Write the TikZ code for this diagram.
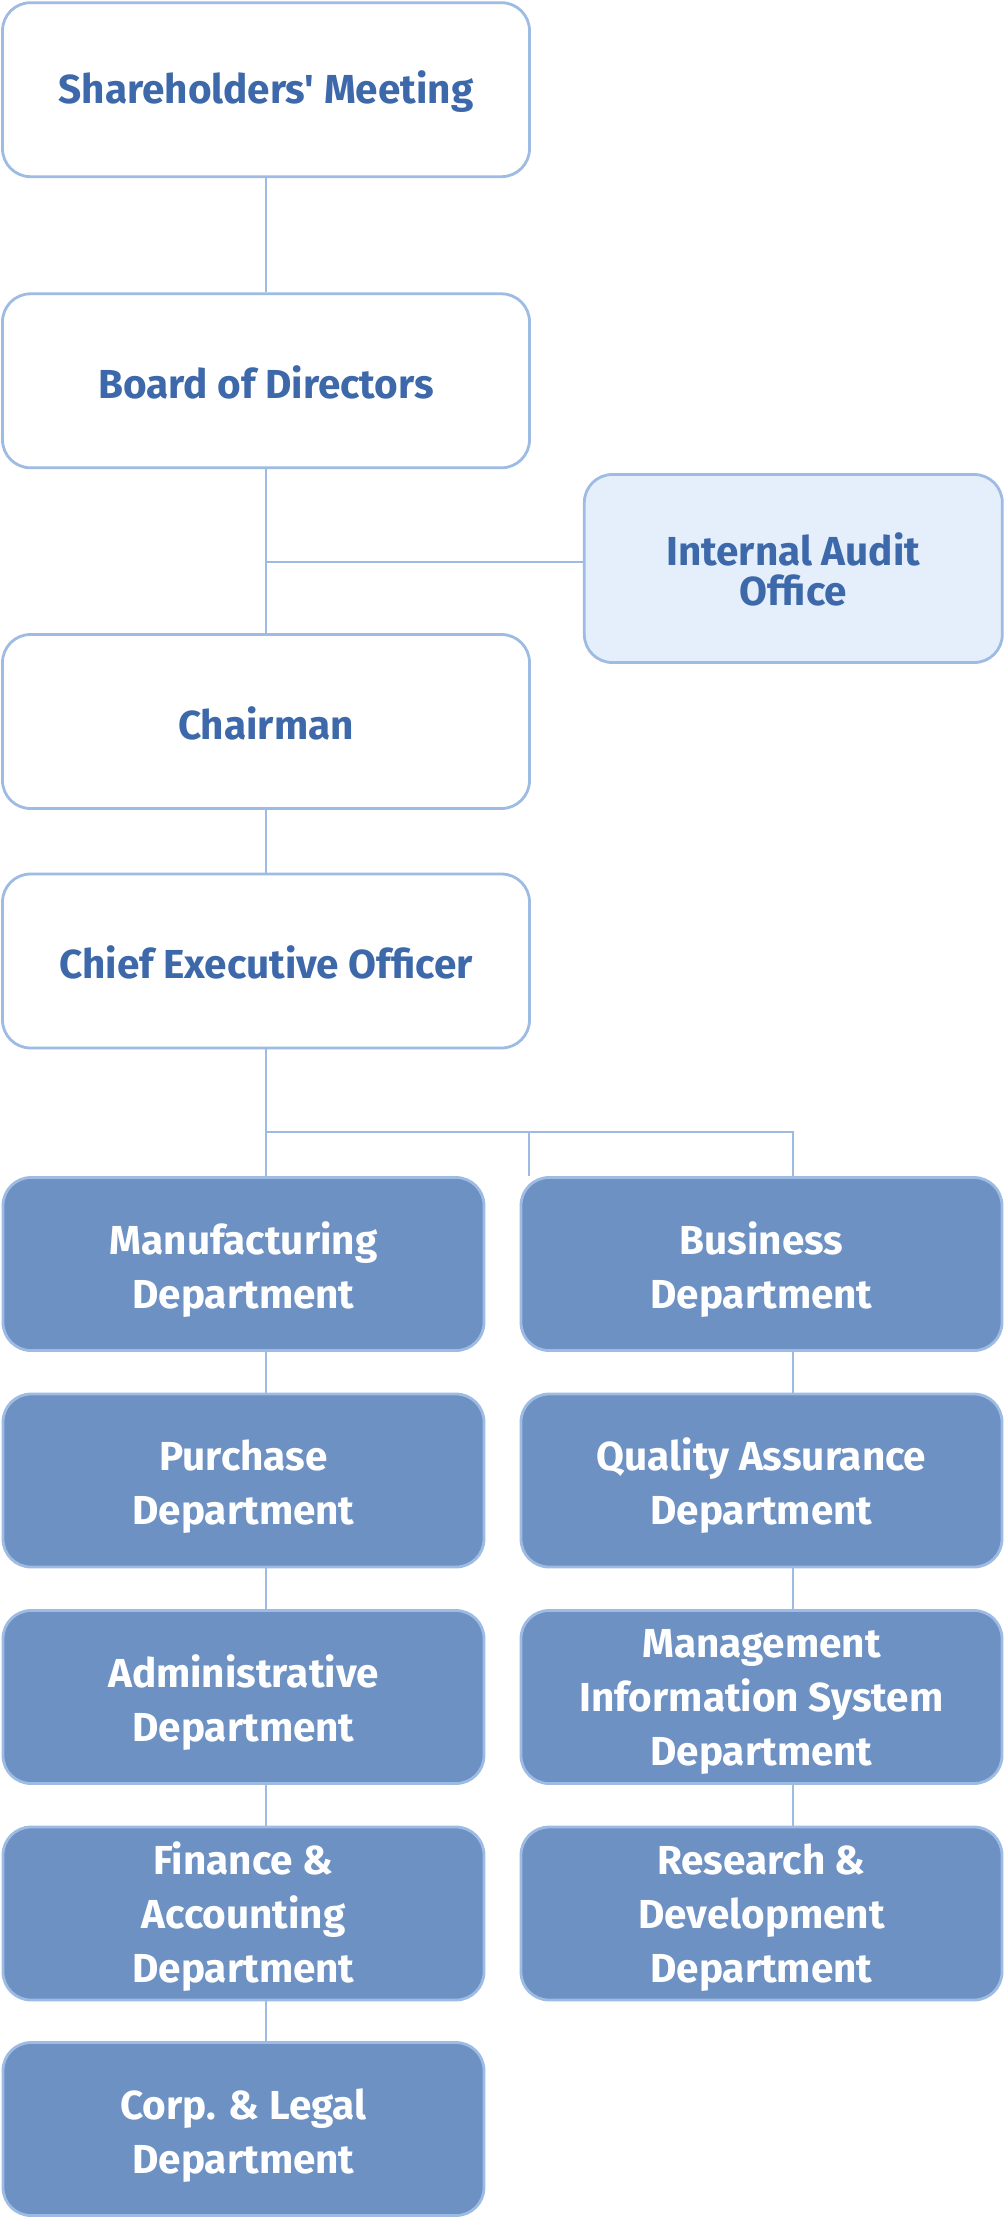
\documentclass[tikz,border=0pt]{standalone}
\usepackage{fontspec}
\setmainfont{Fira Sans}[Ligatures=TeXOff]
\definecolor{lineblue}{HTML}{9DBBE3}
\definecolor{textblue}{HTML}{3D68AA}
\definecolor{deptfill}{HTML}{6C91C2}
\definecolor{auditfill}{HTML}{E5EFFB}
\newcommand\myDeptStrut{\rule{0pt}{43pt}}
\newcommand\myTriStrut{\rule{0pt}{38pt}}
\newcommand\myAuditStrut{\rule{0pt}{35pt}}
\begin{document}
\begin{tikzpicture}[x=1pt,y=-1pt,
  base/.style={draw=lineblue, line width=2.8pt, rounded corners=28pt, align=center, inner sep=0pt,
    font=\fontsize{40.5}{54}\selectfont\bfseries},
  topbox/.style={base, fill=white, text=textblue, minimum width=527pt, minimum height=174pt,
    execute at begin node={\rule{0pt}{36pt}}},
  auditbox/.style={base, fill=auditfill, text=textblue, minimum width=418pt, minimum height=188pt,
    font=\fontsize{40.5}{40}\selectfont\bfseries},
  deptbox/.style={base, fill=deptfill, text=white, minimum width=481pt, minimum height=173pt},
  conn/.style={draw=lineblue, line width=2.8pt}]
\useasboundingbox (0,0) rectangle (1005,2219);
\node[topbox] (sh) at (266,89.7) {Shareholders' Meeting};
\node[topbox] (bd) at (266,380.8) {Board of Directors};
\node[auditbox] (au) at (793.3,568.5) {\myAuditStrut Internal Audit\\Office};
\node[topbox] (ch) at (266,721.5) {Chairman};
\node[topbox] (ceo) at (266,961) {Chief Executive Officer};
\node[deptbox] (mf) at (243.5,1264) {\myDeptStrut Manufacturing\\Department};
\node[deptbox] (pu) at (243.5,1480.5) {\myDeptStrut Purchase\\Department};
\node[deptbox] (ad) at (243.5,1697) {\myDeptStrut Administrative\\Department};
\node[deptbox] (fi) at (243.5,1913.5) {\myTriStrut Finance \&\\Accounting\\Department};
\node[deptbox] (co) at (243.5,2129) {\myDeptStrut Corp. \& Legal\\Department};
\node[deptbox] (bu) at (761.5,1264) {\myDeptStrut Business\\Department};
\node[deptbox] (qa) at (761.5,1480.5) {\myDeptStrut Quality Assurance\\Department};
\node[deptbox] (mi) at (761.5,1697) {\myTriStrut Management\\Information System\\Department};
\node[deptbox] (rd) at (761.5,1913.5) {\myTriStrut Research \&\\Development\\Department};
\coordinate (busl) at (266,1132);
\coordinate (busm) at (529,1132);
\coordinate (busr) at (793,1132);
\coordinate (midend) at (529,1176);
\coordinate (auline) at ([yshift=6.5pt]au.west);
\draw[conn] (sh.south) -- (bd.north);
\draw[conn] (bd.south) -- (ch.north);
\draw[conn] (bd.south |- auline) -- (auline);
\draw[conn] (ch.south) -- (ceo.north);
\draw[conn] (ceo.south) -- (busl) -- (ceo.south |- mf.north);
\draw[conn] (busl) -- (busr) -- (busr |- bu.north);
\draw[conn] (busm) -- (midend);
\draw[conn] (mf.south -| busl) -- (pu.north -| busl);
\draw[conn] (pu.south -| busl) -- (ad.north -| busl);
\draw[conn] (ad.south -| busl) -- (fi.north -| busl);
\draw[conn] (fi.south -| busl) -- (co.north -| busl);
\draw[conn] (bu.south -| busr) -- (qa.north -| busr);
\draw[conn] (qa.south -| busr) -- (mi.north -| busr);
\draw[conn] (mi.south -| busr) -- (rd.north -| busr);
\end{tikzpicture}
\end{document}
